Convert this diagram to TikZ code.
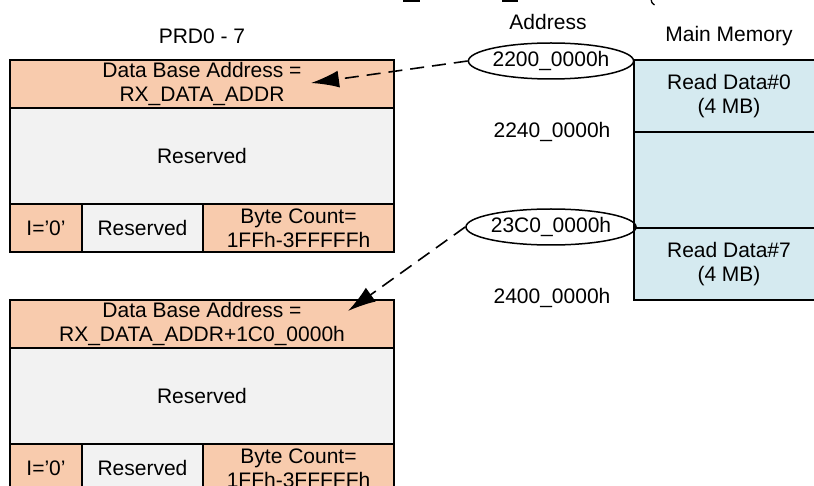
\documentclass[tikz,border=0pt]{standalone}
\usepackage{fontspec}
\setmainfont{Liberation Sans}
\usetikzlibrary{shapes.geometric,arrows.meta}
\definecolor{peach}{HTML}{F8CBAD}
\definecolor{lgray}{HTML}{F2F2F2}
\definecolor{lblue}{HTML}{D5EAF0}
\begin{document}
\begin{tikzpicture}[x=1pt,y=-1pt,
  cell/.style={draw=black,line width=1.5pt,inner sep=0pt,outer sep=0pt,anchor=north west,align=center,font=\fontsize{21}{24}\selectfont},
  lbl/.style={inner sep=0pt,font=\fontsize{21}{24}\selectfont},
  addr/.style={ellipse,draw,line width=1.5pt,minimum width=148pt,minimum height=36pt,inner sep=0pt,font=\fontsize{21}{24}\selectfont},
  ptr/.style={dash pattern=on 14pt off 8pt,line width=1.6pt,-{Latex[length=28pt,width=17pt]}}]
\useasboundingbox (0,0) rectangle (814,486);
\clip (0,0) rectangle (814,486);
% fragments of the cut-off line at the top
\draw[line width=2pt] (403,0.8) -- (420,0.8);
\draw[line width=2pt] (502,0.8) -- (518,0.8);
\draw[line width=1.3pt] (651,-1) .. controls (651.5,2.5) .. (654.5,5);
% PRD box 1
\node[cell,fill=peach,minimum width=384pt,minimum height=48pt] (h1) at (10,60) {Data Base Address =\\RX\_DATA\_ADDR};
\node[cell,fill=lgray,minimum width=384pt,minimum height=96pt] (r1) at (10,108) {Reserved};
\node[cell,fill=peach,minimum width=72pt,minimum height=48pt] (i1) at (10,204) {I=’0’};
\node[cell,fill=lgray,minimum width=121pt,minimum height=48pt] (s1) at (82,204) {Reserved};
\node[cell,fill=peach,minimum width=191pt,minimum height=48pt] (b1) at (203,204) {Byte Count=\\1FFh-3FFFFFh};
% PRD box 2
\node[cell,fill=peach,minimum width=384pt,minimum height=48pt] (h2) at (10,300) {Data Base Address =\\RX\_DATA\_ADDR+1C0\_0000h};
\node[cell,fill=lgray,minimum width=384pt,minimum height=96pt] (r2) at (10,348) {Reserved};
\node[cell,fill=peach,minimum width=72pt,minimum height=48pt] (i2) at (10,444) {I=’0’};
\node[cell,fill=lgray,minimum width=121pt,minimum height=48pt] (s2) at (82,444) {Reserved};
\node[cell,fill=peach,minimum width=191pt,minimum height=48pt] (b2) at (203,444) {Byte Count=\\1FFh-3FFFFFh};
% main memory
\node[cell,fill=lblue,minimum width=190pt,minimum height=72pt] (m0) at (634,60) {Read Data\#0\\(4 MB)};
\node[cell,fill=lblue,minimum width=190pt,minimum height=96pt] (m1) at (634,132) {};
\node[cell,fill=lblue,minimum width=190pt,minimum height=72pt] (m7) at (634,228) {Read Data\#7\\(4 MB)};
% labels
\node[lbl] (t1) at (202,36) {PRD0 - 7};
\node[lbl] (t2) at (548,22) {Address};
\node[lbl] (t3) at (729,36) {Main Memory};
\node[addr] (e1) at (551,61) {2200\_0000h};
\node[lbl] (a2) at (552,132) {2240\_0000h};
\node[addr] (e2) at (551,227) {23C0\_0000h};
\node[lbl] (a4) at (552,298) {2400\_0000h};
% pointers
\coordinate (p1) at (311,83);
\coordinate (p2) at (348,311);
\draw[ptr] (e1.west) -- (p1);
\draw[ptr] (e2.west) -- (p2);
\end{tikzpicture}
\end{document}
